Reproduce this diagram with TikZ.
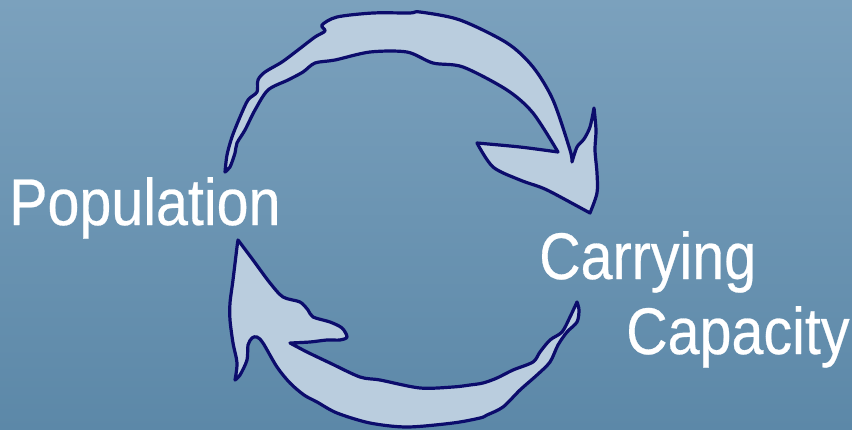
\documentclass[tikz,border=0pt]{standalone}
\usepackage{fontspec}
\setmainfont[FakeStretch=0.87,FakeBold=0.4]{Liberation Sans}
\definecolor{bgtop}{RGB}{123,161,189}
\definecolor{bgbot}{RGB}{92,136,168}
\definecolor{arrowfill}{RGB}{186,205,222}
\definecolor{arrowline}{RGB}{12,12,108}
\tikzset{
  cyclearrow/.style={fill=arrowfill, draw=arrowline, line width=3.2pt, line join=round},
  lbl/.style={text=white, inner sep=0pt, anchor=base west, font=\fontsize{66}{70}\selectfont},
  sm/.style={smooth, tension=0.5}
}
\begin{document}
\begin{tikzpicture}[x=1pt,y=-1pt]
\shade[top color=bgtop, bottom color=bgbot] (0,0) rectangle (852,429);
\useasboundingbox (0,0) rectangle (852,429);
% top arrow
\path[cyclearrow]
  plot[sm] coordinates {(225,172) (227,155) (232,137) (240,117) (248,100) (257,92) (258,80) (265,72) (282,62) (298,50) (315,37) (325,31) (322,25) (337,17) (373,13) (410,13) (420,12) (460,20) (507,43) (533,67) (553,100) (570,150) (572,162)}
  -- plot[sm] coordinates {(572,162) (577,147) (584,139) (590,127) (594,108)}
  -- plot[sm] coordinates {(594,108) (596,130) (595,150) (597,173) (597,193) (590,213)}
  -- plot[sm] coordinates {(590,213) (553,193) (540,187) (520,180) (493,167) (477,143)}
  -- plot[sm] coordinates {(477,143) (520,147) (558,152)}
  -- plot[sm] coordinates {(558,152) (533,113) (507,90) (463,67) (433,63) (407,52) (370,52) (335,60) (315,63) (303,72) (288,80) (268,90) (255,110) (245,130) (237,143) (235,153) (230,167) (225,172)}
  -- cycle;
% bottom arrow
\path[cyclearrow]
  plot[sm] coordinates {(238,240) (253,260) (270,283) (283,297) (300,302) (308,310) (313,317) (330,322) (342,328) (347,337) (340,340) (327,340) (310,342) (290,343)}
  -- plot[sm] coordinates {(290,343) (307,352) (330,363) (360,377) (380,380) (420,388) (453,387) (470,385) (483,383) (497,378) (513,370) (533,362) (540,352) (550,340) (562,332) (570,317) (577,302)}
  -- plot[sm] coordinates {(577,302) (579,310) (577,322) (567,332) (558,345) (550,362) (537,375) (520,390) (503,407) (487,415) (480,418) (453,423) (407,427) (370,423) (337,413) (317,402) (304,395) (290,383) (277,367) (263,343) (257,337) (252,338) (248,345) (247,360) (240,375) (235,380)}
  -- plot[sm] coordinates {(235,380) (237,363) (233,343) (230,320) (230,303) (233,280) (237,247) (238,240)}
  -- cycle;
\node[lbl] (pop) at (9,225) {Population};
\node[lbl] (carry) at (539,279) {Carrying};
\node[lbl] (cap) at (626,354) {Capacity};
\end{tikzpicture}
\end{document}
